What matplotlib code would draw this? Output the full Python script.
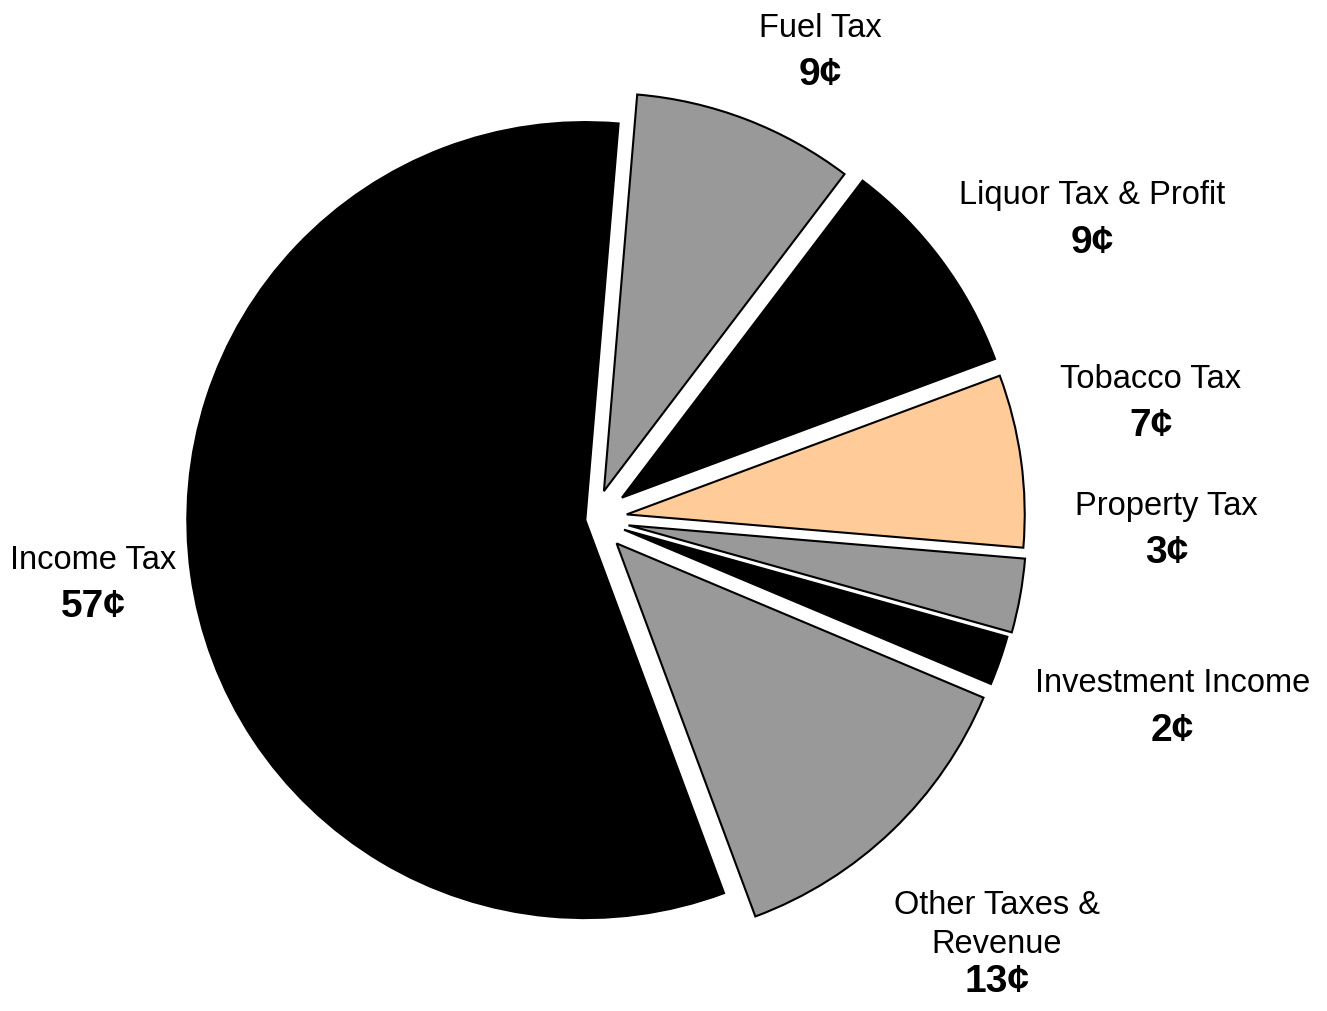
import numpy as np
import matplotlib
matplotlib.use("Agg")
import matplotlib.pyplot as plt

# revenue sources, clockwise starting from Income Tax
sources = [
    "Income Tax",
    "Fuel Tax",
    "Liquor Tax & Profit",
    "Tobacco Tax",
    "Property Tax",
    "Investment Income",
    "Other Taxes &\nRevenue",
]
cents = [57, 9, 9, 7, 3, 2, 13]
colors = ["#000000", "#999999", "#000000", "#FFCC99", "#999999", "#000000", "#999999"]

# how far each slice is pulled out, as a fraction of the radius
explode_frac = [0.02, 0.075, 0.09, 0.085, 0.09, 0.082, 0.085]

# label placement: (angle in degrees, distance in px) of the value text from pie centre
label_polar = [
    (190.0, 507.6),
    (62.9, 498.6),
    (28.95, 570.2),
    (9.47, 565.1),
    (-3.42, 574.3),
    (-20.1, 616.6),
    (-48.93, 614.2),
]

W, H = 1327, 1011
cx, cy = 593.2, H - 519
radius = 398

plt.rcParams["font.family"] = ["Liberation Sans", "DejaVu Sans"]

fig = plt.figure(figsize=(W / 100, H / 100), dpi=100)
ax = fig.add_axes([0, 0, 1, 1])

# pie() applies explode in data units, so scale it by the radius
wedges, _ = ax.pie(
    cents,
    colors=colors,
    explode=[f * radius for f in explode_frac],
    startangle=-69.6,
    counterclock=False,
    center=(cx, cy),
    radius=radius,
    wedgeprops=dict(edgecolor="black", linewidth=1.5),
)

ax.set_xlim(0, W)
ax.set_ylim(0, H)
ax.set_aspect("equal")
ax.axis("off")

for name, val, (ang, dist) in zip(sources, cents, label_polar):
    a = np.deg2rad(ang)
    x = cx + dist * np.cos(a)
    y = cy + dist * np.sin(a)
    nlines = name.count("\n") + 1
    ax.text(x, y, f"{val}\u00a2", ha="center", va="center",
            fontsize=28, fontweight="bold")
    ax.text(x, y + 47 + 10 * (nlines - 1), name, ha="center", va="center",
            fontsize=23.5, linespacing=1.3)

fig.savefig("out.png", dpi=100)
